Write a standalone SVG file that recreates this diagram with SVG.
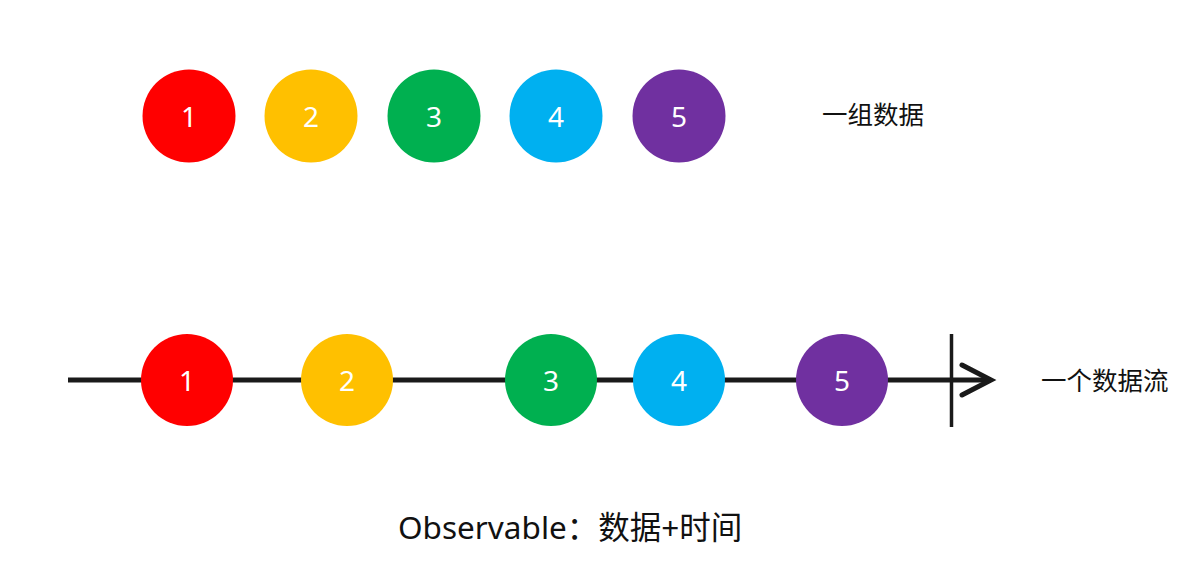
<svg xmlns="http://www.w3.org/2000/svg" width="1197" height="562" viewBox="0 0 1197 562">
<style>
.num{font-family:"Noto Sans","Noto Sans CJK SC",sans-serif;font-size:28px;fill:#fff;text-anchor:middle;dominant-baseline:central}
.lbl{font-family:"Noto Sans CJK SC","Noto Sans",sans-serif;font-size:25.5px;fill:#111;dominant-baseline:central}
.ttl{font-family:"Noto Sans","Noto Sans CJK SC",sans-serif;font-size:31.5px;fill:#111;dominant-baseline:central}
.axis{stroke:#1a1a1a;stroke-width:5;fill:none}
.c1{fill:#FF0000}.c2{fill:#FFC000}.c3{fill:#00B050}.c4{fill:#00B0F0}.c5{fill:#7030A0}
</style>
<rect width="1197" height="562" fill="#fff"/>
<g id="connectors">
<line class="axis" x1="68" y1="380" x2="991" y2="380"/>
<polyline class="axis" points="962,365 991,380 962,395" stroke-linecap="round" stroke-linejoin="miter"/>
<line x1="951.5" y1="334" x2="951.5" y2="427" stroke="#1a1a1a" stroke-width="3.5"/>
</g>
<g id="set1"><circle class="c1" cx="189" cy="116" r="46.5"/><text class="num" x="189" y="116">1</text></g>
<g id="set2"><circle class="c2" cx="311" cy="116" r="46.5"/><text class="num" x="311" y="116">2</text></g>
<g id="set3"><circle class="c3" cx="434" cy="116" r="46.5"/><text class="num" x="434" y="116">3</text></g>
<g id="set4"><circle class="c4" cx="556" cy="116" r="46.5"/><text class="num" x="556" y="116">4</text></g>
<g id="set5"><circle class="c5" cx="679" cy="116" r="46.5"/><text class="num" x="679" y="116">5</text></g>
<g id="label-set"><text class="lbl" x="822" y="112">一组数据</text></g>
<g id="stream1"><circle class="c1" cx="187" cy="380" r="46"/><text class="num" x="187" y="380">1</text></g>
<g id="stream2"><circle class="c2" cx="347" cy="380" r="46"/><text class="num" x="347" y="380">2</text></g>
<g id="stream3"><circle class="c3" cx="551" cy="380" r="46"/><text class="num" x="551" y="380">3</text></g>
<g id="stream4"><circle class="c4" cx="679" cy="380" r="46"/><text class="num" x="679" y="380">4</text></g>
<g id="stream5"><circle class="c5" cx="842" cy="380" r="46"/><text class="num" x="842" y="380">5</text></g>
<g id="label-stream"><text class="lbl" x="1041" y="378">一个数据流</text></g>
<g id="title"><text class="ttl" x="398" y="526">Observable：数据+时间</text></g>
</svg>
